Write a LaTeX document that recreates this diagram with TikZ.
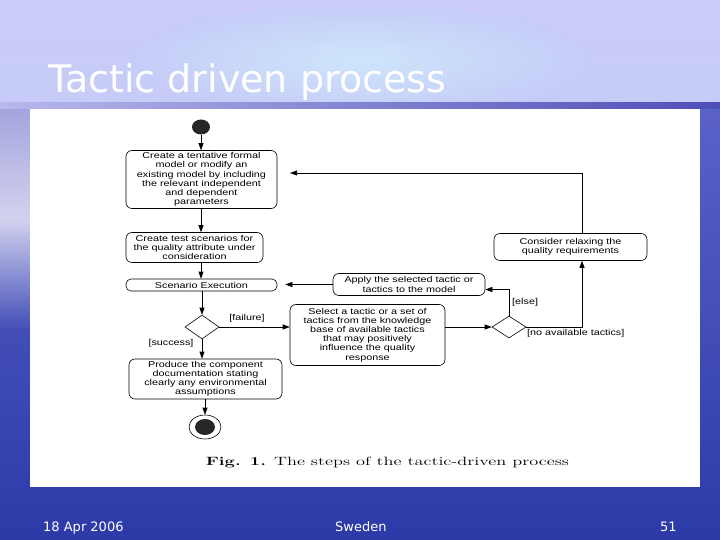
\documentclass[tikz,border=0pt]{standalone}
\usepackage{graphicx}
\usepackage{fontspec}
\newfontfamily\arialf[FakeStretch=1.27]{Liberation Sans}
\newfontfamily\titlefont{DejaVu Sans}
\usetikzlibrary{arrows.meta,shapes.geometric,calc}
\definecolor{bgtop}{HTML}{CACBF8}
\definecolor{bgmid}{HTML}{C6CCF7}
\definecolor{glow}{HTML}{CDE5FB}
\definecolor{seatop}{HTML}{5A62C8}
\definecolor{seabot}{HTML}{2C3AA8}
\definecolor{bandl}{HTML}{B8B8EC}
\definecolor{bandr}{HTML}{4E4EB8}
\definecolor{marg1}{HTML}{A4A4DE}
\definecolor{marg2}{HTML}{D2D2EE}
\begin{document}
\begin{tikzpicture}[x=1pt,y=-1pt,
  box/.style={draw, rounded corners=6pt, line width=0.6pt, align=center,
    font=\arialf\fontsize{8.5}{9.2}\selectfont, inner sep=0pt},
  dia/.style={draw, diamond, line width=0.6pt, minimum width=34pt, minimum height=24pt, inner sep=0pt},
  arr/.style={-{Triangle[length=7pt,width=5pt]}, line width=0.6pt},
  lbl/.style={font=\arialf\fontsize{8.5}{10}\selectfont, inner sep=0pt},
  foot/.style={font=\titlefont\fontsize{13}{15}\selectfont, text=white, inner sep=0pt, anchor=base west}]
\useasboundingbox (0,0) rectangle (720,540);
% background
\fill[top color=bgtop, bottom color=bgmid] (0,0) rectangle (720,105);
\shade[inner color=glow, outer color=bgmid] (360,60) ellipse (230 and 55);
\fill[top color=seatop, bottom color=seabot] (0,105) rectangle (720,540);
\shade[top color=marg1, bottom color=seatop!48!seabot, middle color=marg2] (0,108) rectangle (30,330);
\shade[left color=bandl, right color=bandr] (0,103) rectangle (720,109);
% title
\node[anchor=base west, font=\titlefont\fontsize{38}{40}\selectfont, text=white, inner sep=0pt] (title) at (48,93) {Tactic driven process};
% panel
\fill[white] (30,109) rectangle (700,487);
% nodes
\node[ellipse, fill=black!85, minimum width=18pt, minimum height=15pt, inner sep=0pt] (start) at (201,127) {};
\node[box, minimum width=151pt, minimum height=58pt] (b1) at (201.5,179.5)
  {Create a tentative formal\\model or modify an\\existing model by including\\the relevant independent\\and dependent\\parameters};
\node[box, minimum width=137pt, minimum height=30pt] (b2) at (194.5,247.5)
  {Create test scenarios for\\the quality attribute under\\consideration};
\node[box, rounded corners=5pt, minimum width=151pt, minimum height=12pt] (b3) at (201.5,285) {Scenario Execution};
\node[dia] (d1) at (202,327) {};
\node[box, minimum width=153pt, minimum height=40pt] (bP) at (205.5,379)
  {Produce the component\\documentation stating\\clearly any environmental\\assumptions};
\node[ellipse, draw, line width=0.6pt, minimum width=32pt, minimum height=24pt, inner sep=0pt] (endo) at (205,427) {};
\node[ellipse, fill=black!85, minimum width=20pt, minimum height=16pt, inner sep=0pt] (endi) at (205,427) {};
\node[box, minimum width=155pt, minimum height=61pt] (bS) at (367.5,335)
  {Select a tactic or a set of\\tactics from the knowledge\\base of available tactics\\that may positively\\influence the quality\\response};
\node[dia, minimum height=22pt] (d2) at (509,327) {};
\node[box, minimum width=152pt, minimum height=22pt] (bA) at (409,284.5)
  {Apply the selected tactic or\\tactics to the model};
\node[box, minimum width=153pt, minimum height=27pt] (bC) at (570.5,247)
  {Consider relaxing the\\quality requirements};
\coordinate (c1) at (290,173);
% labels
\node[lbl] (lfail) at (247,318) {[failure]};
\node[lbl] (lsucc) at (171,343) {[success]};
\node[lbl, anchor=west] (lelse) at (512,302) {[else]};
\node[lbl, anchor=west] (lnone) at (527,333) {[no available tactics]};
% connectors
\draw[arr] (start) -- (start |- b1.north);
\draw[arr] (b1.south -| start) -- (start |- b2.north);
\draw[arr] (b2.south -| start) -- (start |- b3.north);
\draw[arr] (b3.south -| d1) -- (d1.north);
\draw[arr] (d1.south) -- (d1.south |- bP.north);
\draw[arr] (bP.south -| endo) -- (endo.north);
\draw[arr] (d1.east) -- (d1.east -| bS.west);
\draw[arr] (d2.west -| bS.east) -- (d2.west);
\draw[arr] (d2.north) |- ([yshift=-5pt]bA.east);
\draw[arr] (d2.east) -| ([xshift=11.5pt]bC.south);
\draw[arr] ([xshift=11.5pt]bC.north) |- (c1);
\draw[arr, shorten >=8pt] (bA.west) -- (bA.west -| b3.east);
% caption
\node[inner sep=0pt, anchor=base] (cap) at (387.5,465)
  {\scalebox{1.53}[1]{\fontsize{12}{14}\selectfont\textbf{Fig. 1.} The steps of the tactic-driven process}};
% footer
\node[foot] (fdate) at (43,531) {18 Apr 2006};
\node[foot] (fplace) at (335,531) {Sweden};
\node[foot] (fnum) at (660,531) {51};
\end{tikzpicture}
\end{document}
